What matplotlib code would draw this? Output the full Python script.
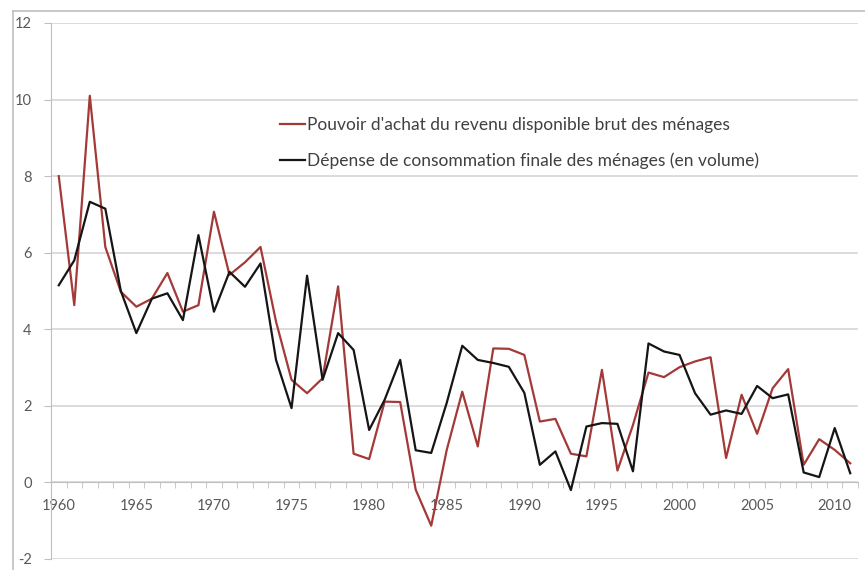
import numpy as np
import matplotlib
matplotlib.use('Agg')
import matplotlib.pyplot as plt
from matplotlib.lines import Line2D

plt.rcParams['font.family'] = ['Lato', 'DejaVu Sans']
plt.rcParams['axes.unicode_minus'] = False

years = list(range(1960, 2012))

# Pouvoir d'achat du revenu disponible brut des ménages
pouvoir_achat = [8.0, 4.63, 10.1, 6.15, 4.98, 4.59, 4.8, 5.47, 4.46, 4.63,
                 7.07, 5.42, 5.75, 6.15, 4.2, 2.68, 2.33, 2.72, 5.12, 0.75,
                 0.61, 2.11, 2.1, -0.19, -1.13, 0.85, 2.37, 0.94, 3.5, 3.49,
                 3.33, 1.59, 1.66, 0.75, 0.68, 2.94, 0.31, 1.5, 2.87, 2.75,
                 3.01, 3.16, 3.27, 0.64, 2.29, 1.27, 2.46, 2.96, 0.46, 1.13,
                 0.85, 0.5]

# Dépense de consommation finale des ménages (en volume)
depense_conso = [5.15, 5.8, 7.33, 7.15, 5.0, 3.9, 4.8, 4.94, 4.24, 6.46,
                 4.46, 5.5, 5.11, 5.72, 3.2, 1.94, 5.4, 2.68, 3.9, 3.46,
                 1.37, 2.16, 3.2, 0.84, 0.77, 2.08, 3.57, 3.2, 3.12, 3.02,
                 2.34, 0.46, 0.81, -0.2, 1.46, 1.55, 1.53, 0.29, 3.63, 3.42,
                 3.33, 2.33, 1.77, 1.88, 1.79, 2.52, 2.2, 2.3, 0.26, 0.14,
                 1.42, 0.24]

labels = ["Pouvoir d'achat du revenu disponible brut des ménages",
          "Dépense de consommation finale des ménages (en volume)"]

red = '#a33a38'
black = '#151515'
grid_c = '#d9d9d9'
axis_c = '#bfbfbf'
text_c = '#595959'

fig = plt.figure(figsize=(8.65, 5.70), dpi=100)
ax = fig.add_axes([51 / 865, 1 - 559 / 570, (858 - 51) / 865, (559 - 23) / 570])

ax.plot(years, pouvoir_achat, color=red, lw=1.6, zorder=3)
ax.plot(years, depense_conso, color=black, lw=1.6, zorder=4)

ax.set_xlim(1959.5, 2011.5)
ax.set_ylim(-2, 12)
ax.set_yticks(np.arange(-2, 13, 2))
ax.yaxis.grid(True, color=grid_c, lw=1.3)
ax.set_axisbelow(True)

for s in ['top', 'right']:
    ax.spines[s].set_visible(False)
ax.spines['left'].set_color(axis_c)
ax.spines['bottom'].set_color(axis_c)
ax.spines['bottom'].set_position(('data', 0))

ax.set_xticks(range(1960, 2012, 5))
ax.set_xticks(np.arange(1959.5, 2012, 1), minor=True)
ax.tick_params(axis='x', which='major', length=0, pad=12, labelsize=10.5, labelcolor=text_c)
ax.tick_params(axis='x', which='minor', length=4, direction='out', color=axis_c)
ax.tick_params(axis='y', length=5, color=axis_c, pad=9, labelsize=10.5, labelcolor=text_c)

handles = [Line2D([], [], color=red, lw=1.6), Line2D([], [], color=black, lw=1.6)]
leg = ax.legend(handles, labels, loc='upper left', bbox_to_anchor=(0.275, 0.838),
                frameon=False, fontsize=12.5, handlelength=1.44, handletextpad=0.1,
                labelspacing=1.15, borderaxespad=0)
for t in leg.get_texts():
    t.set_color('#404040')

# cadre extérieur du graphique
fig.add_artist(Line2D([13 / 865, 13 / 865], [0, 1 - 11 / 570], color='#bfbfbf', lw=1.2))
fig.add_artist(Line2D([13 / 865, 1], [1 - 11 / 570, 1 - 11 / 570], color='#bfbfbf', lw=1.2))

fig.savefig('out.png', dpi=100)
